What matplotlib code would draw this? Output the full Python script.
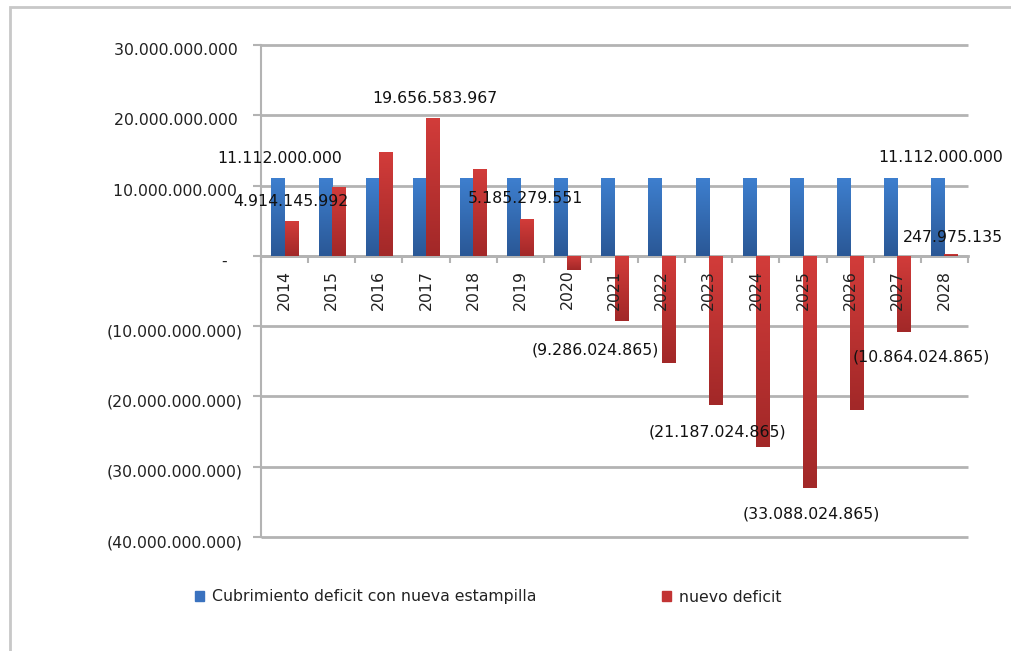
import numpy as np
import matplotlib
matplotlib.use("Agg")
import matplotlib.pyplot as plt
from matplotlib.patches import Rectangle
from matplotlib.transforms import ScaledTranslation

years = ["2014", "2015", "2016", "2017", "2018", "2019", "2020", "2021",
         "2022", "2023", "2024", "2025", "2026", "2027", "2028"]
cubrimiento = [11112000000] * 15
nuevo_deficit = [4914145992, 9828291984, 14742437976, 19656583967, 12420931759,
                 5185279551, -2050372657, -9286024865, -15236524865, -21187024865,
                 -27137524865, -33088024865, -21976024865, -10864024865, 247975135]
series_names = ["Cubrimiento deficit con nueva estampilla", "nuevo deficit"]
y_ticks = [30e9, 20e9, 10e9, 0, -10e9, -20e9, -30e9, -40e9]


def fmt(v):
    if v == 0:
        return "-   "
    s = f"{abs(int(round(v))):,}".replace(",", ".")
    return f"({s})" if v < 0 else s + " "


plt.rcParams['font.family'] = ['DejaVu Sans']
FS = 11.3
fig = plt.figure(figsize=(10.12, 6.51), dpi=100)
W, H = 1012, 651
ax = fig.add_axes([261 / W, 1 - 537 / H, (968 - 261) / W, (537 - 45) / H])

GRID = "#b3b3b3"
BLUE_TOP, BLUE_BOT = np.array([0x3e, 0x7f, 0xcf]) / 255, np.array([0x2a, 0x58, 0x96]) / 255
RED_TOP, RED_BOT = np.array([0xd2, 0x3c, 0x3a]) / 255, np.array([0xa2, 0x28, 0x28]) / 255

x = np.arange(len(years))
bw = 0.28
b1 = ax.bar(x - bw / 2, cubrimiento, bw, color="#3570bb", label=series_names[0], zorder=3)
b2 = ax.bar(x + bw / 2, nuevo_deficit, bw, color="#bb3232", label=series_names[1], zorder=3)


def gradient(bars, top, bot):
    for p in bars:
        x0, y0 = p.get_x(), p.get_y()
        w, h = p.get_width(), p.get_height()
        ylo, yhi = min(y0, y0 + h), max(y0, y0 + h)
        n = 64
        t = np.linspace(0, 1, n)[:, None]
        img = (top[None, :] * (1 - t) + bot[None, :] * t)[:, None, :]
        im = ax.imshow(img, extent=[x0, x0 + w, ylo, yhi], origin="upper",
                       aspect="auto", zorder=3.5, interpolation="bilinear")
        im.set_clip_path(p)


gradient(b1, BLUE_TOP, BLUE_BOT)
gradient(b2, RED_TOP, RED_BOT)

ax.set_xlim(-0.5, len(years) - 0.5)
ax.set_ylim(-40e9, 30e9)
ax.set_yticks(y_ticks)
ax.set_yticklabels([fmt(v) for v in y_ticks], fontsize=FS, color="#222222")
ax.tick_params(axis="y", length=6, width=1.5, color=GRID, pad=7.5)
for lab in ax.get_yticklabels():
    lab.set_transform(lab.get_transform() + ScaledTranslation(0, -4 / 100, fig.dpi_scale_trans))

ax.grid(axis="y", color=GRID, linewidth=2, zorder=0, solid_capstyle="butt")
for gl in ax.get_ygridlines():
    gl.set_clip_on(False)
ax.set_axisbelow(True)
for s in ["top", "right"]:
    ax.spines[s].set_visible(False)
ax.spines["left"].set_color(GRID)
ax.spines["left"].set_linewidth(1.5)
ax.spines["bottom"].set_position(("data", 0))
ax.spines["bottom"].set_color(GRID)
ax.spines["bottom"].set_linewidth(2)
ax.spines["bottom"].set_zorder(2)

ax.set_xticks(x)
ax.set_xticklabels(years, rotation=90, fontsize=FS, color="#222222", va="top")
ax.tick_params(axis="x", which="major", length=0, pad=10)
ax.set_xticks(np.arange(len(years) + 1) - 0.5, minor=True)
ax.tick_params(axis="x", which="minor", length=5, width=1.5, color=GRID, direction="out")
ax.xaxis.set_zorder(6)

# data labels: (series, index, dx px, dy px)
labels = [(0, 0, 2, 19), (0, 14, 3, 20),
          (1, 0, 0, 20), (1, 3, 2, 19), (1, 5, -1, 21), (1, 7, -26, -29),
          (1, 9, 2, -27), (1, 11, 2, -26), (1, 13, 17, -25), (1, 14, 2, 17)]
for s, i, dx, dy in labels:
    vals = cubrimiento if s == 0 else nuevo_deficit
    xc = x[i] - bw / 2 if s == 0 else x[i] + bw / 2
    v = vals[i]
    txt = fmt(v).strip()
    ax.annotate(txt, xy=(xc, v), xytext=(dx * 0.72, dy * 0.72), textcoords="offset points",
                ha="center", va="center", fontsize=FS, color="#111111", zorder=7,
                annotation_clip=False)

leg = fig.legend(handles=[b1, b2], labels=series_names, loc="center",
                 bbox_to_anchor=(488 / W, 1 - 597 / H), ncol=2, frameon=False,
                 fontsize=FS, handlelength=0.6, handleheight=0.6, handletextpad=0.5,
                 columnspacing=8.0)
for t in leg.get_texts():
    t.set_color("#222222")
leg.legend_handles[0].set_color("#3a72bf")
leg.legend_handles[1].set_color("#c23434")

fig.add_artist(Rectangle((10 / W, -0.1), 1.2, 1 - 7 / H + 0.1, transform=fig.transFigure,
                         fill=False, edgecolor="#c8c8c8", linewidth=2))

fig.savefig("out.png", dpi=100)
